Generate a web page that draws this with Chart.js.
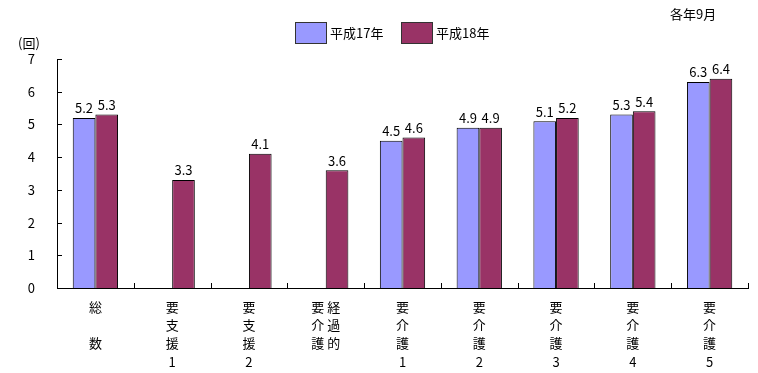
<!DOCTYPE html>
<html lang="ja">
<head>
    <meta charset="UTF-8">
    <title>要介護度別 利用回数</title>
    <script src="https://cdn.jsdelivr.net/npm/chart.js"></script>
    <style>
        body { margin: 0; background: #fff; }
        #wrap { width: 758px; height: 373px; }
    </style>
</head>
<body>
    <div id="wrap"><canvas id="kaisuChart" width="758" height="373"></canvas></div>

    <script>
        // categories (multi-line = vertical writing)
        const categories = [
            ['総', '', '数'],
            ['要', '支', '援', '1'],
            ['要', '支', '援', '2'],
            ['要 経', '介 過', '護 的'],
            ['要', '介', '護', '1'],
            ['要', '介', '護', '2'],
            ['要', '介', '護', '3'],
            ['要', '介', '護', '4'],
            ['要', '介', '護', '5']
        ];
        const seriesNames = ['平成17年', '平成18年'];
        const h17 = [5.2, null, null, null, 4.5, 4.9, 5.1, 5.3, 6.3];
        const h18 = [5.3, 3.3, 4.1, 3.6, 4.6, 4.9, 5.2, 5.4, 6.4];
        const yTicks = [0, 1, 2, 3, 4, 5, 6, 7];

        const FONT = '"Noto Sans CJK JP", "DejaVu Sans", sans-serif';

        // value labels, inside tick marks, legend and extra texts
        const decorPlugin = {
            id: 'decor',
            afterDatasetsDraw(chart) {
                const ctx = chart.ctx;
                ctx.save();
                ctx.font = '13px ' + FONT;
                ctx.fillStyle = '#000';
                ctx.textAlign = 'center';
                ctx.textBaseline = 'bottom';
                chart.data.datasets.forEach((ds, di) => {
                    chart.getDatasetMeta(di).data.forEach((bar, i) => {
                        if (ds.data[i] == null) return;
                        ctx.fillText(ds.data[i].toFixed(1), bar.x, bar.y - 3);
                    });
                });

                // tick marks pointing into the plot
                const x = chart.scales.x, y = chart.scales.y;
                ctx.strokeStyle = '#000';
                ctx.lineWidth = 1;
                ctx.beginPath();
                yTicks.forEach(v => {
                    const py = Math.round(y.getPixelForValue(v)) + 0.5;
                    ctx.moveTo(x.left, py);
                    ctx.lineTo(x.left + 5, py);
                });
                for (let i = 1; i <= categories.length; i++) {
                    const px = Math.round(x.getPixelForValue(i - 0.5)) + 0.5;
                    ctx.moveTo(px, y.bottom);
                    ctx.lineTo(px, y.bottom - 5);
                }
                ctx.stroke();

                // legend
                ctx.textAlign = 'left';
                ctx.textBaseline = 'middle';
                let lx = 295;
                chart.data.datasets.forEach(ds => {
                    ctx.fillStyle = ds.backgroundColor;
                    ctx.fillRect(lx, 22, 32, 22);
                    ctx.strokeStyle = '#333';
                    ctx.strokeRect(lx + 0.5, 22.5, 31, 21);
                    ctx.fillStyle = '#000';
                    ctx.fillText(ds.label, lx + 35, 33);
                    lx += 106;
                });

                ctx.fillText('(回)', 18, 43);
                ctx.fillText('各年9月', 670, 14);
                ctx.restore();
            }
        };

        const ctx = document.getElementById('kaisuChart').getContext('2d');
        new Chart(ctx, {
            type: 'bar',
            data: {
                labels: categories,
                datasets: [{
                    label: seriesNames[0],
                    data: h17,
                    backgroundColor: '#9999FF',
                    borderColor: '#000',
                    borderWidth: 1
                }, {
                    label: seriesNames[1],
                    data: h18,
                    backgroundColor: '#993366',
                    borderColor: '#000',
                    borderWidth: 1
                }]
            },
            options: {
                responsive: false,
                animation: false,
                devicePixelRatio: 1,
                layout: { padding: { top: 59, right: 10, left: 0, bottom: 0 } },
                datasets: {
                    bar: { categoryPercentage: 0.59, barPercentage: 1 }
                },
                plugins: {
                    legend: { display: false },
                    tooltip: { enabled: false }
                },
                scales: {
                    x: {
                        grid: { display: false },
                        border: { display: true, color: '#000', width: 1 },
                        ticks: {
                            color: '#000',
                            font: { family: FONT, size: 13, lineHeight: 1.4 },
                            padding: 2,
                            maxRotation: 0,
                            autoSkip: false
                        },
                        afterFit(scale) { scale.height = 85; }
                    },
                    y: {
                        min: 0,
                        max: 7,
                        grid: { display: false },
                        border: { display: true, color: '#000', width: 1 },
                        ticks: {
                            stepSize: 1,
                            color: '#000',
                            font: { family: FONT, size: 13 },
                            padding: 14
                        },
                        afterFit(scale) { scale.width = 57; }
                    }
                }
            },
            plugins: [decorPlugin]
        });
    </script>
</body>
</html>
